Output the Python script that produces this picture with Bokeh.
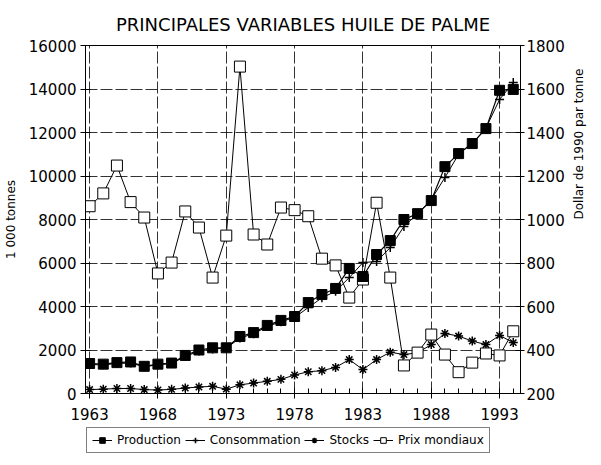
import math
from bokeh.plotting import figure
from bokeh.layouts import column
from bokeh.models import (Range1d, LinearAxis, FixedTicker, Legend, LegendItem,
                          ColumnDataSource)
from bokeh.embed import file_html
from bokeh.resources import INLINE

years = list(range(1963, 1995))
production = [1380, 1350, 1420, 1450, 1250, 1350, 1400, 1750, 2000, 2100, 2100,
              2620, 2800, 3130, 3360, 3540, 4180, 4550, 4830, 5750, 5380, 6390,
              7030, 8000, 8270, 8870, 10430, 11030, 11490, 12180, 13940, 13980]
consommation = [1330, 1320, 1380, 1400, 1230, 1320, 1380, 1700, 1950, 2050, 2080,
                2550, 2750, 3080, 3300, 3500, 3950, 4400, 4700, 5330, 6020, 6070,
                6710, 7680, 8270, 8920, 9930, 11000, 11500, 12200, 13520, 14300]
stocks = [180, 200, 230, 230, 180, 160, 190, 250, 300, 330, 200, 400, 480, 560,
          650, 850, 1000, 1050, 1200, 1560, 1100, 1560, 1900, 1790, 1870, 2250,
          2760, 2640, 2410, 2250, 2670, 2340]
prix = [1061, 1120, 1248, 1080, 1009, 752, 802, 1037, 963, 733, 926, 1703, 931,
        885, 1055, 1043, 1015, 820, 789, 641, 724, 1077, 733, 329, 388, 471, 379,
        298, 342, 384, 375, 486]
major_years = [1963, 1968, 1973, 1978, 1983, 1988, 1993]
left_ticks = [0, 2000, 4000, 6000, 8000, 10000, 12000, 14000, 16000]
right_ticks = [200, 400, 600, 800, 1000, 1200, 1400, 1600, 1800]
series_names = ["Production", "Consommation", "Stocks", "Prix mondiaux"]

FONT = "DejaVu Sans"

p = figure(frame_width=435, frame_height=348, output_backend="svg",
           toolbar_location=None,
           x_range=Range1d(1962.7, 1994.53), y_range=Range1d(0, 16000),
           min_border_left=80, min_border_right=0, min_border_top=0,
           min_border_bottom=0)
p.extra_y_ranges = {"prix": Range1d(200, 1800)}

p.title.text = "PRINCIPALES VARIABLES HUILE DE PALME"
p.title.align = "center"
p.title.text_font = FONT
p.title.text_font_size = "18px"
p.title.text_font_style = "normal"
p.title.text_color = "black"
p.title.offset = 0
p.title.standoff = 22

p.outline_line_color = "black"
p.outline_line_width = 1

for g in (p.xgrid, p.ygrid):
    g.grid_line_color = "black"
    g.grid_line_dash = "12 3"
    g.grid_line_width = 1
    g.grid_line_alpha = 0.8

p.xaxis.ticker = FixedTicker(ticks=major_years, minor_ticks=years)
p.yaxis.ticker = FixedTicker(ticks=left_ticks)

for ax in (p.xaxis[0], p.yaxis[0]):
    ax.major_label_text_font = FONT
    ax.major_label_text_font_size = "15px"
    ax.major_tick_in = 5
    ax.major_tick_out = 5
    ax.minor_tick_in = 5
    ax.minor_tick_out = 0
    ax.axis_line_color = "black"
    ax.major_tick_line_color = "black"
    ax.minor_tick_line_color = "black"
    ax.major_label_text_color = "black"

p.xaxis[0].major_label_standoff = 9
p.yaxis[0].minor_tick_line_color = None
p.yaxis[0].axis_label = "1 000 tonnes"
p.yaxis[0].axis_label_text_font = FONT
p.yaxis[0].axis_label_text_font_size = "12px"
p.yaxis[0].axis_label_text_font_style = "normal"
p.yaxis[0].axis_label_text_color = "black"
p.yaxis[0].axis_label_standoff = 8
p.yaxis[0].major_label_standoff = 4

right = LinearAxis(y_range_name="prix", ticker=FixedTicker(ticks=right_ticks))
right.axis_label = "Dollar de 1990 par tonne"
right.axis_label_text_font = FONT
right.axis_label_text_font_size = "12px"
right.axis_label_text_font_style = "normal"
right.axis_label_text_color = "black"
right.axis_label_standoff = 11
right.major_label_text_font = FONT
right.major_label_text_font_size = "15px"
right.major_label_text_color = "black"
right.major_label_standoff = 2
right.major_tick_in = 5
right.major_tick_out = 4
right.minor_tick_line_color = None
if "axis_label_orientation" in right.properties():
    right.axis_label_orientation = math.pi / 2
p.add_layout(right, "right")

src = ColumnDataSource(dict(x=years, prod=production, cons=consommation,
                            st=stocks, prix=prix))

styles = {
    "prod": dict(marker="square", size=10, fill_color="black", line_color="black"),
    "cons": dict(marker="cross", size=9, line_color="black", line_width=1.5),
    "st": dict(marker="asterisk", size=9, line_color="black", line_width=1.5),
    "prix": dict(marker="square", size=11, fill_color="white", line_color="black",
                 line_width=1),
}
order_draw = ["st", "prix", "prod", "cons"]
for col in order_draw:
    kw = {"y_range_name": "prix"} if col == "prix" else {}
    p.line("x", col, source=src, line_color="black",
           line_width=1.2 if col == "prod" else 1, **kw)
    p.scatter("x", col, source=src, **styles[col], **kw)

# legend strip below the chart (its own small canvas, data lies off-range)
lg = figure(width=585, height=31, output_backend="svg", toolbar_location=None,
            title=None, x_range=Range1d(0, 1), y_range=Range1d(0, 1),
            x_axis_location=None, y_axis_location=None,
            min_border_left=0, min_border_right=0, min_border_top=0,
            min_border_bottom=0)
lg.grid.visible = False
lg.outline_line_color = None
items = []
for name, col in zip(series_names, ["prod", "cons", "st", "prix"]):
    rl = lg.line("x", col, source=src, line_color="black", line_width=1)
    rm = lg.scatter("x", col, source=src, **styles[col])
    items.append(LegendItem(label=name, renderers=[rl, rm]))

leg = Legend(items=items, orientation="horizontal", location=(1, 0),
             border_line_color="black", border_line_width=1,
             background_fill_alpha=0, label_text_font=FONT,
             label_text_font_size="12px", label_text_color="black",
             glyph_width=20, glyph_height=14, label_height=14, label_standoff=5,
             spacing=4, padding=5, margin=0)
lg.add_layout(leg, "center")

layout = column(p, lg, spacing=0)
open("out.html", "w").write(file_html(layout, INLINE))
